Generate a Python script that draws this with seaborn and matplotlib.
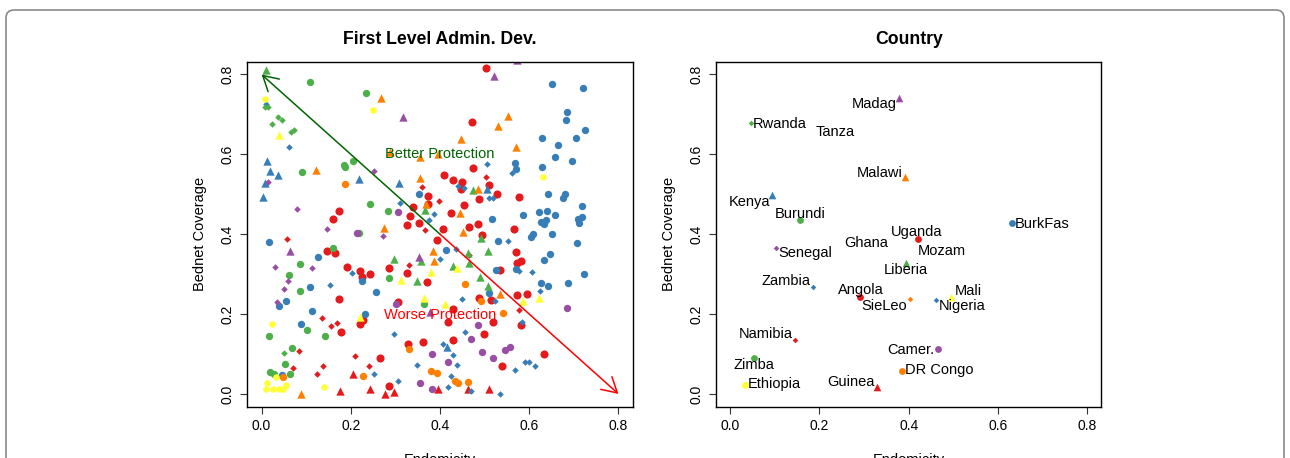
import numpy as np
import matplotlib
matplotlib.use("Agg")
import matplotlib.pyplot as plt
from matplotlib.patches import FancyBboxPatch
import seaborn as sns
import pandas as pd

# ---- palette (R Set1) ----
RED, BLUE, GREEN = "#E41A1C", "#377EB8", "#4DAF4A"
PURPLE, ORANGE, YELLOW = "#984EA3", "#FF7F00", "#FFFF33"

# ---- left panel: first level admin units, grouped by colour/shape ----
red_circles = [(0.372, 0.496), (0.374, 0.476), (0.339, 0.468), (0.333, 0.445), (0.354, 0.428), (0.327, 0.423),
               (0.173, 0.457), (0.161, 0.437), (0.502, 0.817), (0.472, 0.680), (0.474, 0.566), (0.410, 0.547),
               (0.428, 0.536), (0.450, 0.531), (0.447, 0.513), (0.509, 0.524), (0.528, 0.501), (0.487, 0.488),
               (0.578, 0.492), (0.453, 0.474), (0.425, 0.454), (0.465, 0.419), (0.486, 0.426), (0.407, 0.413),
               (0.565, 0.414), (0.494, 0.399), (0.146, 0.359), (0.164, 0.353), (0.191, 0.318), (0.221, 0.307),
               (0.224, 0.293), (0.244, 0.300), (0.173, 0.238), (0.285, 0.315), (0.327, 0.304), (0.371, 0.280),
               (0.306, 0.229), (0.178, 0.155), (0.227, 0.184), (0.221, 0.174), (0.266, 0.090), (0.285, 0.020),
               (0.329, 0.126), (0.362, 0.130), (0.393, 0.386), (0.570, 0.355), (0.573, 0.328), (0.582, 0.332),
               (0.534, 0.311), (0.573, 0.248), (0.595, 0.251), (0.487, 0.239), (0.515, 0.236), (0.429, 0.213),
               (0.419, 0.181), (0.519, 0.179), (0.582, 0.173), (0.498, 0.151), (0.429, 0.134), (0.633, 0.099),
               (0.540, 0.070)]
red_diamonds = [(0.360, 0.517), (0.366, 0.410), (0.398, 0.484), (0.502, 0.544), (0.058, 0.389), (0.331, 0.324),
                (0.135, 0.189), (0.155, 0.169), (0.169, 0.177), (0.084, 0.108), (0.071, 0.066), (0.125, 0.049),
                (0.138, 0.070), (0.209, 0.094), (0.241, 0.069), (0.465, 0.349), (0.577, 0.211)]
red_triangles = [(0.175, 0.008), (0.206, 0.050), (0.244, 0.012), (0.276, 0.000), (0.296, 0.004), (0.395, 0.013),
                 (0.463, 0.013), (0.510, 0.013)]
blue_circles = [(0.353, 0.501), (0.650, 0.775), (0.720, 0.765), (0.685, 0.706), (0.682, 0.686), (0.725, 0.660),
                (0.704, 0.642), (0.628, 0.642), (0.664, 0.624), (0.658, 0.593), (0.695, 0.584), (0.567, 0.578),
                (0.570, 0.564), (0.628, 0.568), (0.516, 0.437), (0.641, 0.501), (0.681, 0.501), (0.676, 0.490),
                (0.719, 0.470), (0.622, 0.455), (0.640, 0.459), (0.658, 0.447), (0.587, 0.447), (0.626, 0.431),
                (0.637, 0.436), (0.634, 0.425), (0.709, 0.438), (0.719, 0.444), (0.711, 0.427), (0.608, 0.401),
                (0.650, 0.401), (0.016, 0.380), (0.127, 0.342), (0.109, 0.267), (0.224, 0.284), (0.257, 0.254),
                (0.054, 0.232), (0.039, 0.220), (0.113, 0.208), (0.089, 0.176), (0.232, 0.200), (0.046, 0.048),
                (0.531, 0.384), (0.603, 0.394), (0.706, 0.378), (0.413, 0.361), (0.525, 0.311), (0.570, 0.313),
                (0.632, 0.336), (0.647, 0.351), (0.723, 0.300), (0.626, 0.279), (0.642, 0.271), (0.687, 0.278),
                (0.510, 0.252)]
blue_diamonds = [(0.009, 0.725), (0.061, 0.619), (0.311, 0.477), (0.387, 0.451), (0.375, 0.436), (0.561, 0.553),
                 (0.505, 0.577), (0.440, 0.520), (0.454, 0.516), (0.509, 0.491), (0.518, 0.491), (0.203, 0.303),
                 (0.154, 0.272), (0.253, 0.049), (0.306, 0.033), (0.348, 0.072), (0.297, 0.150), (0.552, 0.384),
                 (0.435, 0.364), (0.401, 0.338), (0.578, 0.308), (0.606, 0.305), (0.625, 0.258), (0.450, 0.238),
                 (0.524, 0.233), (0.584, 0.181), (0.457, 0.155), (0.407, 0.125), (0.429, 0.098), (0.439, 0.073),
                 (0.591, 0.079), (0.599, 0.081), (0.612, 0.070), (0.569, 0.059), (0.424, 0.046), (0.419, 0.018),
                 (0.469, 0.008), (0.534, 0.000)]
blue_triangles = [(0.013, 0.584), (0.020, 0.558), (0.037, 0.549), (0.007, 0.527), (0.004, 0.494), (0.218, 0.537),
                  (0.309, 0.529), (0.506, 0.513), (0.416, 0.117)]
green_circles = [(0.108, 0.782), (0.233, 0.754), (0.090, 0.556), (0.185, 0.573), (0.188, 0.568), (0.206, 0.584),
                 (0.242, 0.476), (0.284, 0.457), (0.218, 0.402), (0.161, 0.365), (0.087, 0.325), (0.061, 0.298),
                 (0.086, 0.259), (0.285, 0.290), (0.364, 0.226), (0.101, 0.161), (0.143, 0.144), (0.017, 0.144),
                 (0.069, 0.115), (0.052, 0.075), (0.020, 0.056), (0.028, 0.049), (0.063, 0.050)]
green_diamonds = [(0.007, 0.719), (0.015, 0.719), (0.037, 0.694), (0.046, 0.686), (0.023, 0.676), (0.065, 0.655),
                  (0.072, 0.661), (0.050, 0.102)]
green_triangles = [(0.009, 0.812), (0.366, 0.461), (0.474, 0.510), (0.296, 0.338), (0.358, 0.334), (0.349, 0.282),
                   (0.492, 0.390), (0.463, 0.353), (0.508, 0.357), (0.430, 0.321), (0.465, 0.328), (0.490, 0.294),
                   (0.507, 0.271)]
purple_circles = [(0.306, 0.455), (0.214, 0.402), (0.302, 0.224), (0.382, 0.100), (0.355, 0.027), (0.382, 0.012),
                  (0.685, 0.215), (0.485, 0.172), (0.469, 0.138), (0.545, 0.110), (0.557, 0.118), (0.493, 0.105),
                  (0.518, 0.091), (0.418, 0.080)]
purple_diamonds = [(0.014, 0.531), (0.253, 0.559), (0.079, 0.463), (0.146, 0.414), (0.272, 0.395), (0.031, 0.318),
                   (0.114, 0.315), (0.060, 0.283), (0.050, 0.263), (0.034, 0.229)]
purple_triangles = [(0.318, 0.693), (0.521, 0.796), (0.573, 0.835), (0.063, 0.357), (0.353, 0.344), (0.377, 0.204)]
orange_circles = [(0.188, 0.526), (0.049, 0.043), (0.227, 0.045), (0.330, 0.113), (0.380, 0.058), (0.393, 0.052),
                  (0.455, 0.275), (0.492, 0.232), (0.541, 0.202), (0.434, 0.033), (0.441, 0.028), (0.463, 0.031)]
orange_triangles = [(0.268, 0.740), (0.123, 0.562), (0.355, 0.541), (0.355, 0.593), (0.395, 0.602), (0.368, 0.476),
                    (0.275, 0.416), (0.287, 0.605), (0.552, 0.695), (0.530, 0.670), (0.446, 0.639), (0.571, 0.618),
                    (0.485, 0.514), (0.444, 0.452), (0.451, 0.405), (0.384, 0.359), (0.386, 0.332), (0.088, 0.000),
                    (0.534, 0.250)]
yellow_circles = [(0.007, 0.739), (0.250, 0.710), (0.631, 0.544), (0.023, 0.174), (0.033, 0.043), (0.012, 0.028),
                  (0.009, 0.013), (0.025, 0.013), (0.040, 0.013), (0.048, 0.013), (0.054, 0.023), (0.141, 0.017)]
yellow_triangles = [(0.040, 0.648), (0.313, 0.286), (0.380, 0.306), (0.365, 0.240), (0.221, 0.192), (0.412, 0.226),
                    (0.439, 0.315), (0.587, 0.232), (0.621, 0.240)]

# ---- right panel: countries ----
countries = ["Madag", "Rwanda", "Malawi", "Kenya", "Burundi", "Uganda", "Senegal", "Liberia", "BurkFas", "Zambia",
             "Angola", "SieLeo", "Mali", "Nigeria", "Namibia", "Camer.", "Zimba", "DR Congo", "Ethiopia", "Guinea"]
country_x = [0.378, 0.0455, 0.391, 0.094, 0.157, 0.422, 0.103, 0.393, 0.632, 0.185,
             0.292, 0.404, 0.495, 0.462, 0.146, 0.465, 0.053, 0.386, 0.034, 0.329]
country_y = [0.742, 0.679, 0.543, 0.497, 0.435, 0.388, 0.365, 0.329, 0.428, 0.268,
             0.242, 0.238, 0.242, 0.236, 0.135, 0.112, 0.091, 0.058, 0.023, 0.018]
country_col = ["purple", "green", "orange", "blue", "green", "red", "purple", "green", "blue", "blue",
               "red", "orange", "yellow", "blue", "red", "purple", "green", "orange", "yellow", "red"]
country_shape = ["tri", "dia", "tri", "tri", "circ", "circ", "dia", "tri", "circ", "dia",
                 "circ", "dia", "tri", "dia", "dia", "circ", "circ", "circ", "circ", "tri"]
# label text positions (countries without a visible marker included)
labels = ["Madag", "Rwanda", "Tanza", "Malawi", "Kenya", "Burundi", "Uganda", "Ghana", "Senegal", "Mozam",
          "Liberia", "BurkFas", "Zambia", "Angola", "SieLeo", "Mali", "Nigeria", "Namibia", "Camer.", "Zimba",
          "DR Congo", "Ethiopia", "Guinea"]
label_x = [0.3735, 0.0507, 0.235, 0.3857, 0.0897, 0.1576, 0.4177, 0.305, 0.1083, 0.4738,
           0.3937, 0.6374, 0.1794, 0.2917, 0.3969, 0.503, 0.4677, 0.1404, 0.458, 0.0538,
           0.3908, 0.0395, 0.3235]
label_y = [0.7248, 0.677, 0.655, 0.5535, 0.4808, 0.4514, 0.4055, 0.378, 0.3528, 0.3586,
           0.3092, 0.4263, 0.2816, 0.2608, 0.2207, 0.2566, 0.2214, 0.1497, 0.1103, 0.0727,
           0.0602, 0.0251, 0.0293]
label_ha = ["right", "left", "center", "right", "right", "center", "center", "center", "left", "center",
            "center", "left", "right", "center", "right", "left", "left", "right", "right", "center",
            "left", "left", "right"]

ticks = [0.0, 0.2, 0.4, 0.6, 0.8]
lims = (-0.032, 0.832)

sns.set_style("white")
plt.rcParams['font.family'] = ['Liberation Sans', 'DejaVu Sans']
plt.rcParams['text.color'] = 'black'
plt.rcParams['axes.labelcolor'] = 'black'
plt.rcParams['xtick.color'] = 'black'
plt.rcParams['ytick.color'] = 'black'

colmap = {"red": RED, "blue": BLUE, "green": GREEN, "purple": PURPLE, "orange": ORANGE, "yellow": YELLOW}
markmap = {"circ": "o", "dia": "D", "tri": "^"}

fig = plt.figure(figsize=(12.9, 4.58), dpi=100)
ax1 = fig.add_axes([0.1917, 0.112, 0.2988, 0.7533])
ax2 = fig.add_axes([0.555, 0.112, 0.2988, 0.7533])

groups = [
    (red_circles, RED, "o", 34), (red_diamonds, RED, "D", 11), (red_triangles, RED, "^", 36),
    (blue_circles, BLUE, "o", 28), (blue_diamonds, BLUE, "D", 11), (blue_triangles, BLUE, "^", 36),
    (green_circles, GREEN, "o", 28), (green_diamonds, GREEN, "D", 11), (green_triangles, GREEN, "^", 36),
    (purple_circles, PURPLE, "o", 28), (purple_diamonds, PURPLE, "D", 11), (purple_triangles, PURPLE, "^", 36),
    (orange_circles, ORANGE, "o", 28), (orange_triangles, ORANGE, "^", 36),
    (yellow_circles, YELLOW, "o", 22), (yellow_triangles, YELLOW, "^", 36),
]
for pts, col, mk, sz in groups:
    df = pd.DataFrame(pts, columns=["x", "y"])
    sns.scatterplot(data=df, x="x", y="y", color=col, marker=mk, s=sz, linewidth=0, ax=ax1, clip_on=True)

# protection arrows
astyle = "->,head_length=0.56,head_width=0.32"
ax1.annotate("", xy=(0.0, 0.8), xytext=(0.4, 0.4),
             arrowprops=dict(arrowstyle=astyle, color="#006400", lw=1.1,
                             mutation_scale=19, shrinkA=0, shrinkB=0))
ax1.annotate("", xy=(0.8, 0.0), xytext=(0.4, 0.4),
             arrowprops=dict(arrowstyle=astyle, color="red", lw=1.1,
                             mutation_scale=19, shrinkA=0, shrinkB=0))
ax1.text(0.4, 0.6, "Better Protection", color="#006400", ha="center", va="center", fontsize=10.5)
ax1.text(0.4, 0.198, "Worse Protection", color="red", ha="center", va="center", fontsize=10.5)

cdf = pd.DataFrame({"x": country_x, "y": country_y, "col": country_col, "shape": country_shape})
csize = {"circ": 24, "dia": 8, "tri": 30}
for (col, shp), sub in cdf.groupby(["col", "shape"]):
    sns.scatterplot(data=sub, x="x", y="y", color=colmap[col], marker=markmap[shp], s=csize[shp],
                    linewidth=0, ax=ax2)
for t, lx, ly, ha in zip(labels, label_x, label_y, label_ha):
    ax2.text(lx, ly, t, ha=ha, va="center", fontsize=10.5)

for ax, title in [(ax1, "First Level Admin. Dev."), (ax2, "Country")]:
    ax.set_xlim(lims)
    ax.set_ylim(lims)
    ax.set_xticks(ticks)
    ax.set_yticks(ticks)
    ax.set_xticklabels([f"{t:.1f}" for t in ticks], fontsize=10)
    ax.set_yticklabels([f"{t:.1f}" for t in ticks], fontsize=10, rotation=90, va="center")
    ax.tick_params(axis="both", direction="out", length=5, width=0.8, color="#333333", pad=4,
                   bottom=True, left=True)
    for sp in ax.spines.values():
        sp.set_visible(True)
        sp.set_color("black")
        sp.set_linewidth(1.0)
    ax.set_xlabel("Endemicity", fontsize=10.5, labelpad=14)
    ax.set_ylabel("Bednet Coverage", fontsize=10.5, labelpad=10)
    ax.set_title(title, fontsize=12.7, fontweight="bold", pad=13)

# outer rounded frame
frame = FancyBboxPatch((6, -30), 1278, 478, boxstyle="round,pad=0,rounding_size=8",
                       transform=None, fill=False, edgecolor="#8a8a8a", linewidth=1.2)
fig.patches.append(frame)

fig.savefig("out.png", dpi=100)
